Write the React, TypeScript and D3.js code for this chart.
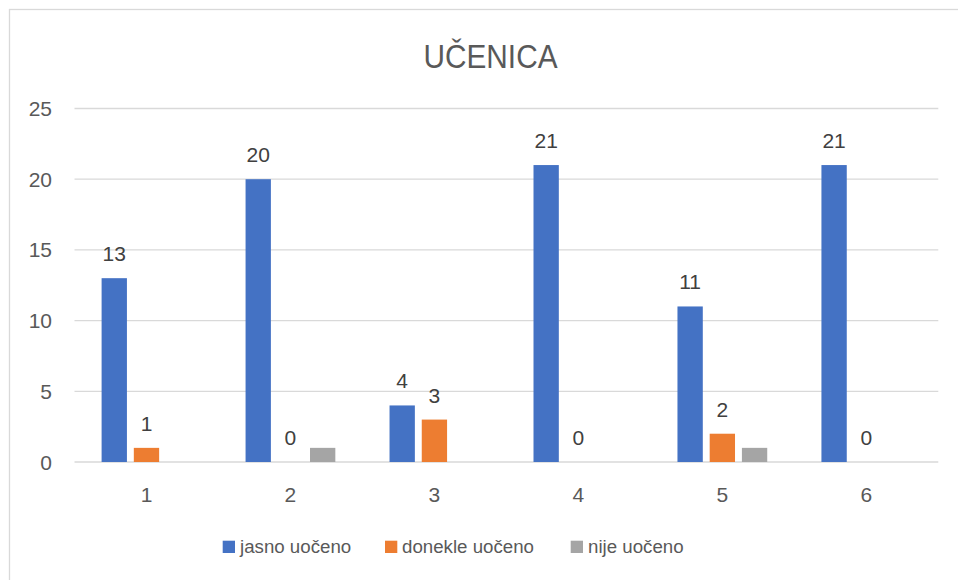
import React from "react";
import * as d3 from "d3";

const categories = ["1", "2", "3", "4", "5", "6"];
const seriesNames = ["jasno uočeno", "donekle uočeno", "nije uočeno"];
const jasno = [13, 20, 4, 21, 11, 21];
const donekle = [1, 0, 3, 0, 2, 0];
const nije = [0, 1, 0, 0, 1, 0];
const yTicks = [0, 5, 10, 15, 20, 25];
const title = "UČENICA";

const colors = ["#4472C4", "#ED7D31", "#A5A5A5"];
const showLabels = [true, true, false];

export default function App() {
  const W = 958;
  const H = 580;
  const left = 74.5;
  const right = 938.3;
  const top = 108.5;
  const bottom = 462;
  const font = "'Liberation Sans', Arial, sans-serif";

  const values = [jasno, donekle, nije];
  const x0 = d3.scaleBand<string>().domain(categories).range([left, right]).padding(0);
  const step = x0.bandwidth();
  const groupPad = 27.1;
  const x1 = d3
    .scaleBand<string>()
    .domain(seriesNames)
    .range([groupPad, step - groupPad])
    .paddingInner(0.214)
    .paddingOuter(0);
  const y = d3.scaleLinear().domain([0, 25]).range([bottom, top]);

  const legendItems = [
    { sq: 222.7, tx: 240 },
    { sq: 385, tx: 402 },
    { sq: 570.7, tx: 588 },
  ];

  return (
    <div style={{ position: "absolute", left: 0, top: 0 }}>
      <svg width={W} height={H} style={{ display: "block" }}>
        <rect x={0} y={0} width={W} height={H} fill="#fff" />
        <rect x={9.5} y={9.5} width={960} height={590} fill="none" stroke="#d9d9d9" strokeWidth={1.3} />
        <text
          x={490.5}
          y={68}
          textAnchor="middle"
          fontFamily={font}
          fontSize={33}
          fill="#595959"
          textLength={134}
          lengthAdjust="spacingAndGlyphs"
        >
          {title}
        </text>
        {yTicks.map((t) => (
          <g key={t}>
            <line x1={left} x2={right} y1={y(t)} y2={y(t)} stroke="#d9d9d9" strokeWidth={1.3} />
            <text
              x={52}
              y={y(t)}
              dy="0.36em"
              textAnchor="end"
              fontFamily={font}
              fontSize={21}
              fill="#595959"
            >
              {t}
            </text>
          </g>
        ))}
        {categories.map((c, ci) => (
          <g key={c} transform={`translate(${x0(c)},0)`}>
            {seriesNames.map((s, si) => {
              const v = values[si][ci];
              const bx = x1(s)!;
              return (
                <g key={s}>
                  <rect
                    x={bx}
                    y={y(v)}
                    width={x1.bandwidth()}
                    height={bottom - y(v)}
                    fill={colors[si]}
                  />
                  {showLabels[si] && (
                    <text
                      x={bx + x1.bandwidth() / 2}
                      y={y(v) - 17}
                      textAnchor="middle"
                      fontFamily={font}
                      fontSize={21}
                      fill="#404040"
                    >
                      {v}
                    </text>
                  )}
                </g>
              );
            })}
            <text
              x={step / 2}
              y={502}
              textAnchor="middle"
              fontFamily={font}
              fontSize={21}
              fill="#595959"
            >
              {c}
            </text>
          </g>
        ))}
        {seriesNames.map((s, si) => (
          <g key={s}>
            <rect x={legendItems[si].sq} y={540.7} width={12.3} height={12.3} fill={colors[si]} />
            <text
              x={legendItems[si].tx}
              y={553}
              fontFamily={font}
              fontSize={18.7}
              fill="#595959"
            >
              {s}
            </text>
          </g>
        ))}
      </svg>
    </div>
  );
}
